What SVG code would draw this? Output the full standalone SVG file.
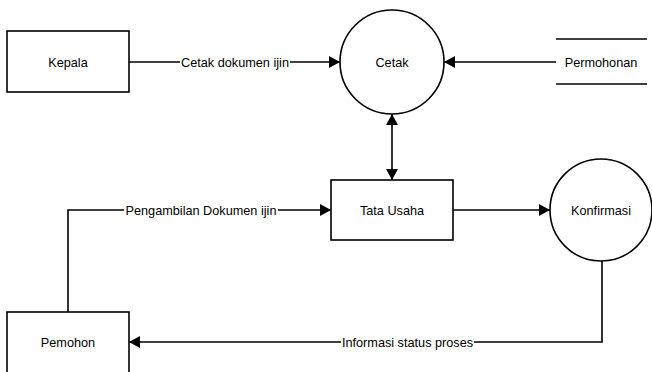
<svg xmlns="http://www.w3.org/2000/svg" width="652" height="372" viewBox="0 0 652 372">
  <style>
    .box { fill: #fff; stroke: #000; stroke-width: 1.6; }
    .proc { fill: #fff; stroke: #000; stroke-width: 1.6; }
    .flow { fill: none; stroke: #000; stroke-width: 1.6; }
    .store { stroke: #000; stroke-width: 1.6; }
    text { font-family: "Liberation Sans", Arial, sans-serif; font-size: 12.7px; fill: #000; text-anchor: middle; }
    .lblbg { fill: #fff; }
  </style>
  <defs>
    <marker id="arrow" markerUnits="userSpaceOnUse" markerWidth="12" markerHeight="12" refX="11" refY="6" orient="auto-start-reverse">
      <path d="M0,0 L11,6 L0,12 z" fill="#000"/>
    </marker>
  </defs>

  <rect width="652" height="372" fill="#fff"/>

  <!-- data flows -->
  <g id="connectors">
    <line class="flow" x1="129" y1="62" x2="340" y2="62" marker-end="url(#arrow)"/>
    <line class="flow" x1="556" y1="62" x2="444" y2="62" marker-end="url(#arrow)"/>
    <line class="flow" x1="392" y1="114" x2="392" y2="180" marker-start="url(#arrow)" marker-end="url(#arrow)"/>
    <polyline class="flow" points="68,312 68,210 331,210" marker-end="url(#arrow)"/>
    <line class="flow" x1="453" y1="210" x2="550" y2="210" marker-end="url(#arrow)"/>
    <polyline class="flow" points="602,261 602,342 129,342" marker-end="url(#arrow)"/>

    <rect class="lblbg" x="180" y="54" width="110" height="16"/>
    <text x="235" y="66.5">Cetak dokumen ijin</text>
    <rect class="lblbg" x="124" y="202" width="154" height="16"/>
    <text x="201" y="214.5">Pengambilan Dokumen ijin</text>
    <rect class="lblbg" x="341" y="334" width="133" height="16"/>
    <text x="407.5" y="346.5">Informasi status proses</text>
  </g>

  <g id="kepala">
    <rect class="box" x="7" y="31" width="122" height="61"/>
    <text x="68" y="66.5">Kepala</text>
  </g>

  <g id="cetak">
    <circle class="proc" cx="392" cy="62" r="52"/>
    <text x="392" y="66.5">Cetak</text>
  </g>

  <g id="permohonan">
    <line class="store" x1="556" y1="39" x2="647" y2="39"/>
    <line class="store" x1="556" y1="84" x2="647" y2="84"/>
    <text x="601" y="66.5">Permohonan</text>
  </g>

  <g id="tata-usaha">
    <rect class="box" x="331" y="180" width="122" height="60"/>
    <text x="392" y="214.5">Tata Usaha</text>
  </g>

  <g id="konfirmasi">
    <circle class="proc" cx="601" cy="210" r="51"/>
    <text x="601" y="214.5">Konfirmasi</text>
  </g>

  <g id="pemohon">
    <rect class="box" x="7" y="312" width="122" height="62"/>
    <text x="68" y="346.5">Pemohon</text>
  </g>
</svg>
